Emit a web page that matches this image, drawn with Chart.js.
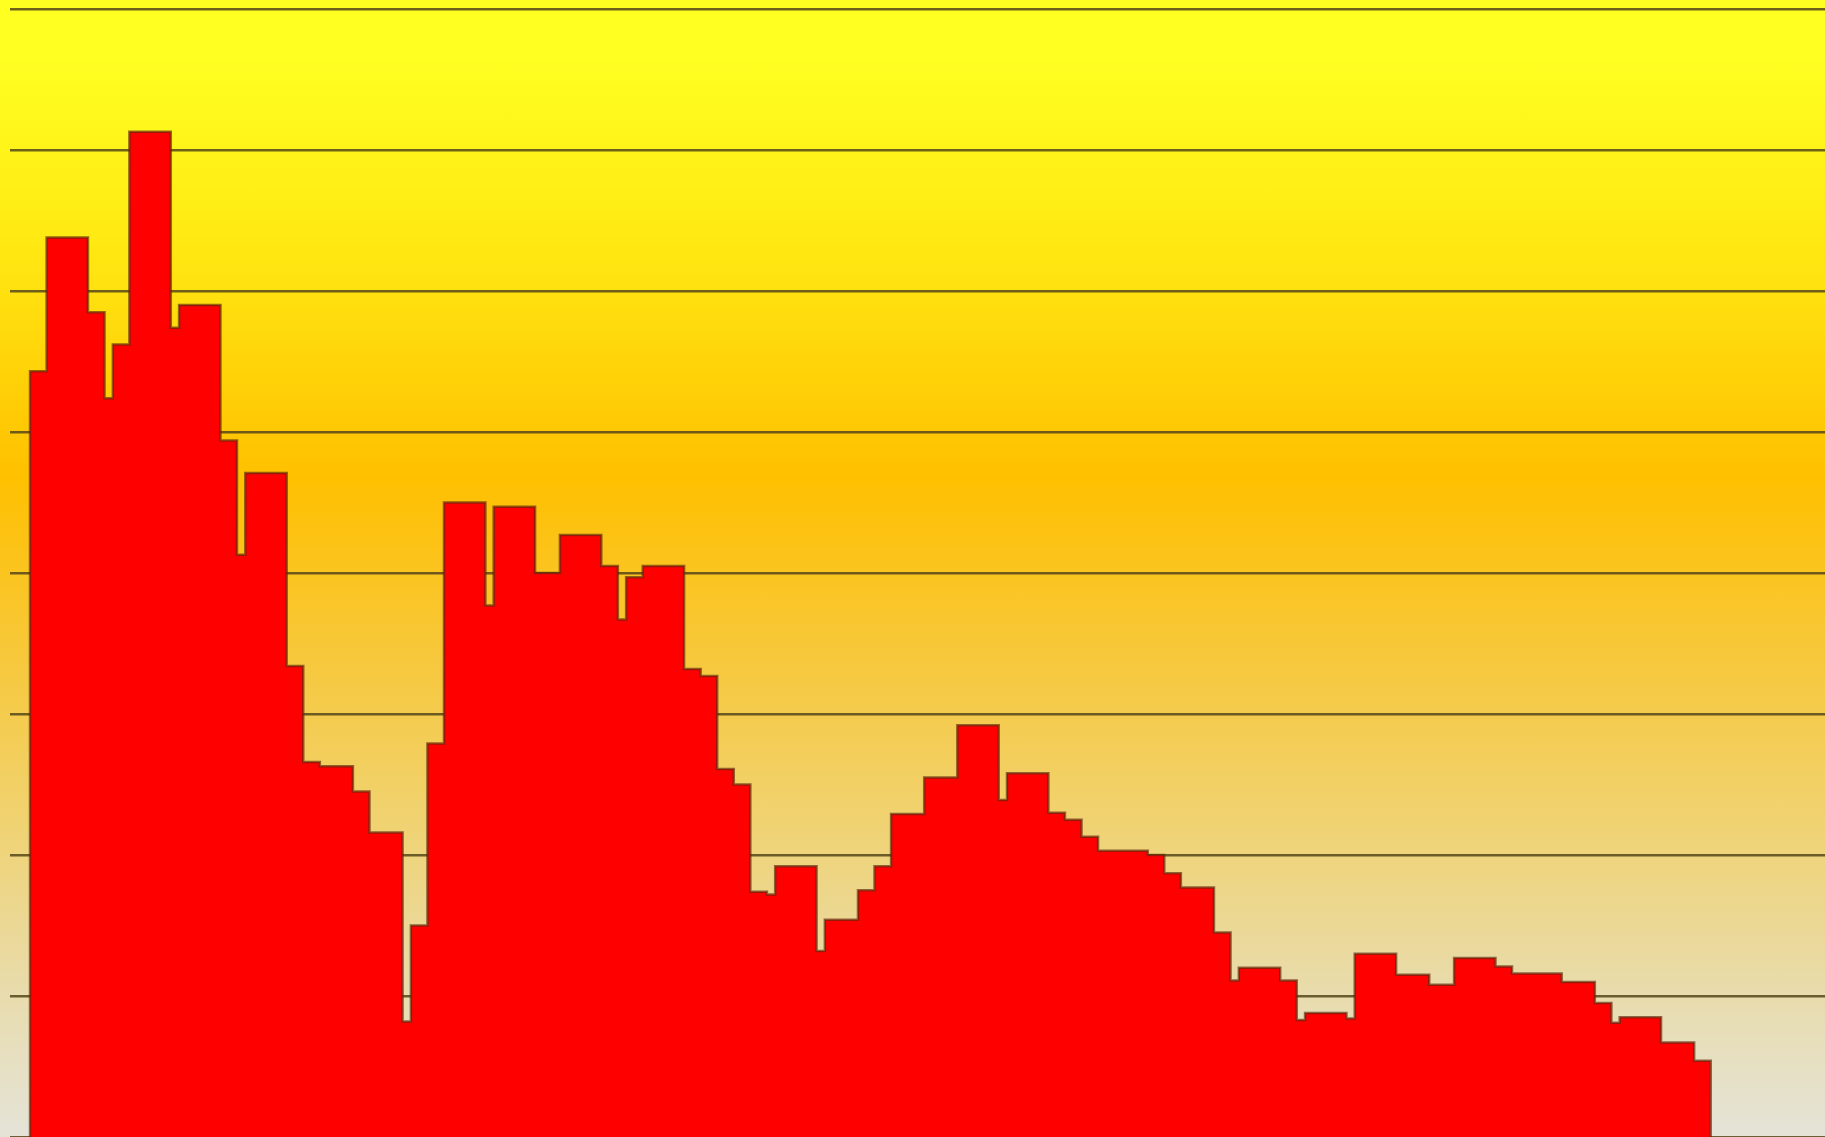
<!DOCTYPE html>
<html>
<head>
<meta charset="utf-8">
<script src="https://cdn.jsdelivr.net/npm/chart.js@4/dist/chart.umd.min.js"></script>
<style>
  html, body { margin: 0; padding: 0; overflow: hidden; }
  #chart {
    display: block;
    background: linear-gradient(to bottom,
      #ffff22 0%, #ffff22 5%, #ffe812 22%, #ffc000 42%,
      #f7c83c 58%, #f0d270 72%, #e9dba8 86%, #e4e3d8 100%);
  }
</style>
</head>
<body>
<canvas id="chart" width="1825" height="1137"></canvas>
<script>

/********** DATA **********/

// width of each step, in periods
const stepWidths = [
  2, 5, 2, 1, 2, 5, 1, 5, 2, 1,
  5, 2, 2, 4, 2, 4, 1, 2, 2, 5,
  1, 5, 3, 5, 2, 1, 2, 5, 2, 2,
  2, 2, 2, 1, 5, 1, 4, 2, 2, 4,
  4, 5, 1, 5, 2, 2, 2, 6, 2, 2,
  4, 2, 1, 5, 2, 1, 5, 1, 5, 4,
  3, 5, 2, 6, 4, 2, 1, 5, 4, 2
]

// value held during each step
const stepValues = [
  54.3, 63.8, 58.5, 52.4, 56.2, 71.3, 57.4, 59.0, 49.4, 41.3,
  47.1, 33.4, 26.6, 26.3, 24.5, 21.6, 8.2, 15.0, 27.9, 45.0,
  37.7, 44.7, 40.0, 42.7, 40.5, 36.7, 39.7, 40.5, 33.2, 32.7,
  26.1, 25.0, 17.4, 17.2, 19.2, 13.2, 15.4, 17.5, 19.2, 22.9,
  25.5, 29.2, 23.9, 25.8, 23.0, 22.5, 21.3, 20.3, 20.0, 18.7,
  17.7, 14.5, 11.1, 12.0, 11.1, 8.3, 8.8, 8.4, 13.0, 11.5,
  10.8, 12.7, 12.1, 11.6, 11.0, 9.5, 8.1, 8.5, 6.7, 5.4
]

// gridline values
const yTicks = [0, 10, 20, 30, 40, 50, 60, 70, 80]

/********** BUILD POINTS **********/

const buildPoints = () => {
  let points = [{x: 0, y: 0}]
  let pos = 0
  for (let i = 0; i < stepValues.length; i++) {
    points.push({x: pos, y: stepValues[i]})
    pos += stepWidths[i]
  }
  points.push({x: pos, y: stepValues[stepValues.length - 1]})
  points.push({x: pos, y: 0})
  return points
}

const totalPeriods = stepWidths.reduce((a, b) => a + b, 0)

/********** CHART **********/

const ctx = document.getElementById('chart')
const chart = new Chart(ctx, {
  type: 'line',
  data: {
    datasets: [{
      data: buildPoints(),
      stepped: 'before',
      fill: 'origin',
      backgroundColor: '#ff0000',
      borderColor: 'rgba(90, 40, 10, 0.65)',
      borderWidth: 2.5,
      pointRadius: 0,
      tension: 0
    }]
  },
  options: {
    responsive: false,
    animation: false,
    events: [],
    layout: { padding: { top: 9, left: 10, right: 0, bottom: 0 } },
    plugins: {
      legend: { display: false },
      tooltip: { enabled: false }
    },
    scales: {
      x: {
        type: 'linear',
        display: false,
        min: -2.42,
        max: totalPeriods + 13.8
      },
      y: {
        min: yTicks[0],
        max: yTicks[yTicks.length - 1],
        afterBuildTicks: (axis) => {
          axis.ticks = yTicks.map(v => ({value: v}))
        },
        ticks: { display: false },
        border: { display: false },
        grid: {
          color: 'rgba(85, 70, 25, 0.85)',
          lineWidth: 2.5,
          drawTicks: false
        }
      }
    }
  }
})

</script>
</body>
</html>
